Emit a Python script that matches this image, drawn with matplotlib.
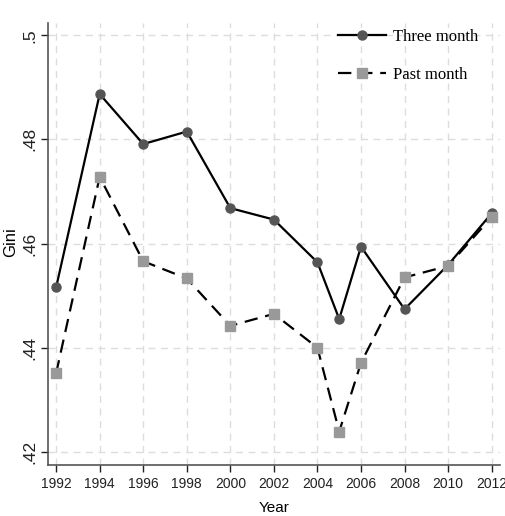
import matplotlib
matplotlib.use("Agg")
import matplotlib.pyplot as plt

years = [1992, 1994, 1996, 1998, 2000, 2002, 2004, 2005, 2006, 2008, 2010, 2012]
three_month = [0.4516, 0.4887, 0.4791, 0.4815, 0.4668, 0.4646, 0.4564, 0.4455, 0.4594, 0.4474, 0.4559, 0.4658]
past_month = [0.4351, 0.4728, 0.4566, 0.4533, 0.4442, 0.4465, 0.4400, 0.4239, 0.4371, 0.4535, 0.4557, 0.4651]

xticks = list(range(1992, 2013, 2))
yticks = [0.42, 0.44, 0.46, 0.48, 0.50]
ytick_labels = [".42", ".44", ".46", ".48", ".5"]

plt.rcParams['font.family'] = ['Liberation Sans', 'DejaVu Sans']
narrow = ['Liberation Sans Narrow', 'Liberation Sans']

fig = plt.figure(figsize=(5.06, 5.16), dpi=100)
ax = fig.add_axes([0.095, 0.099, 0.893, 0.856])

ax.plot(years, three_month, color='black', linewidth=1.6, linestyle='-',
        marker='o', markersize=6.5, markerfacecolor='#555555', markeredgecolor='#555555',
        label='Three month', zorder=3)
ax.plot(years, past_month, color='black', linewidth=1.6, linestyle=(0, (6, 3.5)),
        marker='s', markersize=6.5, markerfacecolor='#999999', markeredgecolor='#999999',
        label='Past month', zorder=3)

ax.set_xlim(1991.63, 2012.38)
ax.set_ylim(0.4175, 0.5023)
ax.set_xticks(xticks)
ax.set_xticklabels([str(y) for y in xticks], family=narrow, fontsize=10)
ax.set_yticks(yticks)
ax.set_yticklabels(ytick_labels, rotation=90, va='center', fontsize=12.5)
ax.tick_params(axis='both', colors='#222222', length=5, width=1)
ax.tick_params(axis='x', pad=4)
ax.tick_params(axis='y', pad=3)

ax.grid(True, color='#dddddd', linestyle=(0, (5, 4)), linewidth=1)
ax.set_axisbelow(True)
for side in ['top', 'right']:
    ax.spines[side].set_visible(False)
for side in ['left', 'bottom']:
    ax.spines[side].set_color('#555555')
    ax.spines[side].set_linewidth(1.2)

ax.set_xlabel('Year', family=narrow, fontsize=11)
ax.xaxis.set_label_coords(0.5, -0.081)
ax.set_ylabel('Gini', fontsize=12)
ax.yaxis.set_label_coords(-0.066, 0.505)

ax.legend(loc='upper right', frameon=False, handlelength=2.9,
          prop={'family': 'Liberation Serif', 'size': 12},
          bbox_to_anchor=(478 / 506, 1 - 29 / 516), bbox_transform=fig.transFigure,
          borderaxespad=0, borderpad=0, handletextpad=0.4, labelspacing=1.32)

fig.savefig('out.png', dpi=100)
